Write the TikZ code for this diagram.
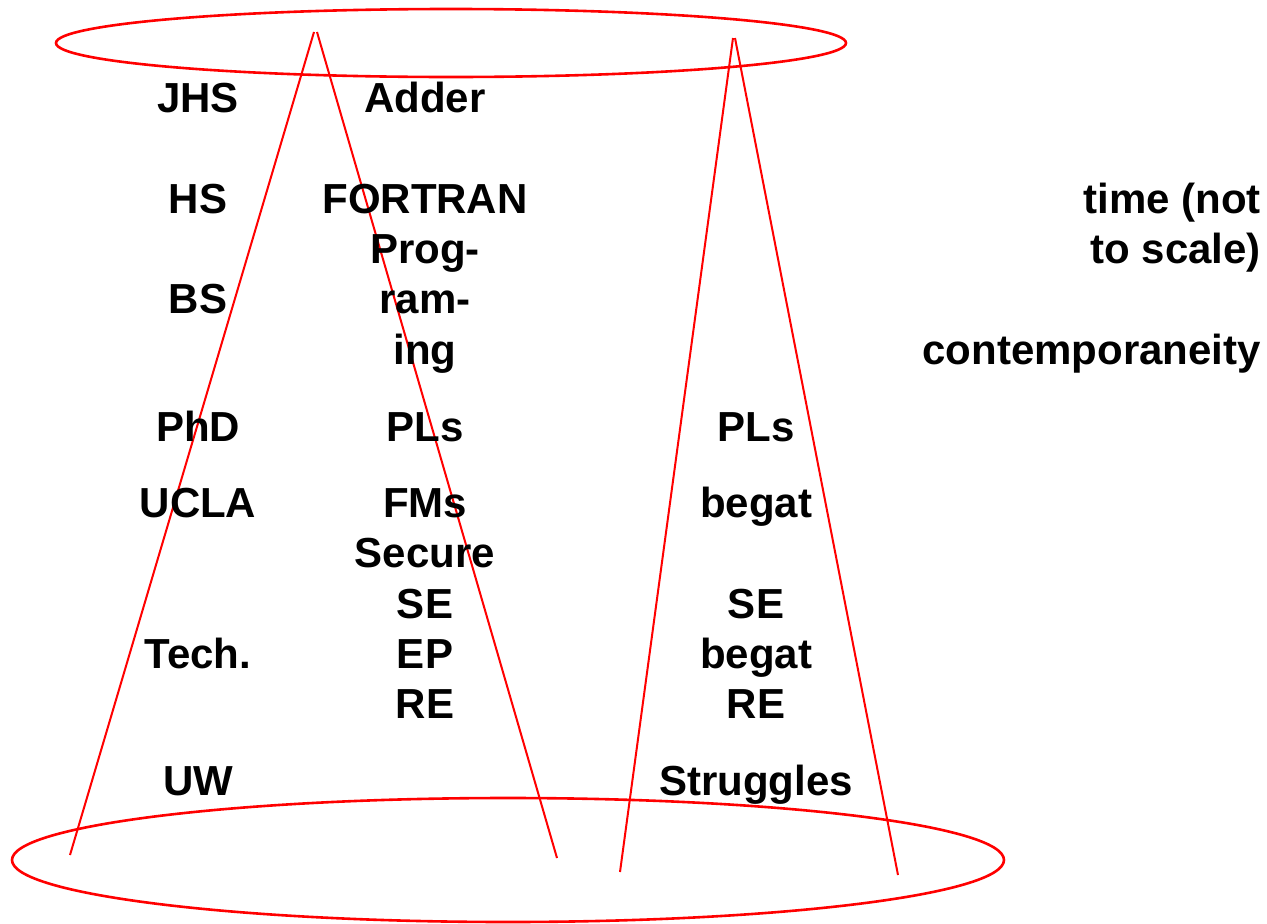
\documentclass[tikz,border=0pt]{standalone}
\usepackage{fontspec}
\setmainfont{Liberation Sans}
\begin{document}
\begin{tikzpicture}[x=1pt,y=-1pt,
  lbl/.style={inner sep=0pt,anchor=base,font=\fontsize{42}{50}\selectfont\bfseries},
  rlbl/.style={lbl,anchor=base east},
  redline/.style={draw=red,line width=2pt},
  ring/.style={draw=red,line width=2.6pt}]
\useasboundingbox (0,0) rectangle (1267,924);
% ellipses
\draw[ring] (451,43) ellipse [x radius=395, y radius=34];
\draw[ring] (508,860) ellipse [x radius=496, y radius=62];
% cone apex and foot points
\coordinate (la1) at (314,32);
\coordinate (la2) at (317,32);
\coordinate (lb1) at (70,855);
\coordinate (lb2) at (557,858);
\coordinate (ra1) at (733,38);
\coordinate (ra2) at (735,38);
\coordinate (rb1) at (620,872);
\coordinate (rb2) at (898,875);
\draw[redline] (la1) -- (lb1);
\draw[redline] (la2) -- (lb2);
\draw[redline] (ra1) -- (rb1);
\draw[redline] (ra2) -- (rb2);
% left column
\node[lbl] (jhs) at (198,112) {JHS};
\node[lbl] (hs) at (198,213) {HS};
\node[lbl] (bs) at (198,313) {BS};
\node[lbl] (phd) at (198,441) {PhD};
\node[lbl] (ucla) at (198,517) {UCLA};
\node[lbl] (tech) at (198,668) {Tech.};
\node[lbl] (uw) at (198,795) {UW};
% middle column
\node[lbl] (adder) at (425,112) {Adder};
\node[lbl] (fortran) at (425,213) {FORTRAN};
\node[lbl] (prog) at (425,263) {Prog-};
\node[lbl] (ram) at (425,313) {ram-};
\node[lbl] (ing) at (425,364) {ing};
\node[lbl] (pls1) at (425,441) {PLs};
\node[lbl] (fms) at (425,517) {FMs};
\node[lbl] (secure) at (425,567) {Secure};
\node[lbl] (se1) at (425,618) {SE};
\node[lbl] (ep) at (425,668) {EP};
\node[lbl] (re1) at (425,718) {RE};
% right column
\node[lbl] (pls2) at (756,441) {PLs};
\node[lbl] (begat1) at (756,517) {begat};
\node[lbl] (se2) at (756,618) {SE};
\node[lbl] (begat2) at (756,668) {begat};
\node[lbl] (re2) at (756,718) {RE};
\node[lbl] (strug) at (756,795) {Struggles};
% far right
\node[rlbl] (time1) at (1261,213) {time (not};
\node[rlbl] (time2) at (1261,263) {to scale)};
\node[rlbl] (contemp) at (1261,364) {contemporaneity};
\end{tikzpicture}
\end{document}
